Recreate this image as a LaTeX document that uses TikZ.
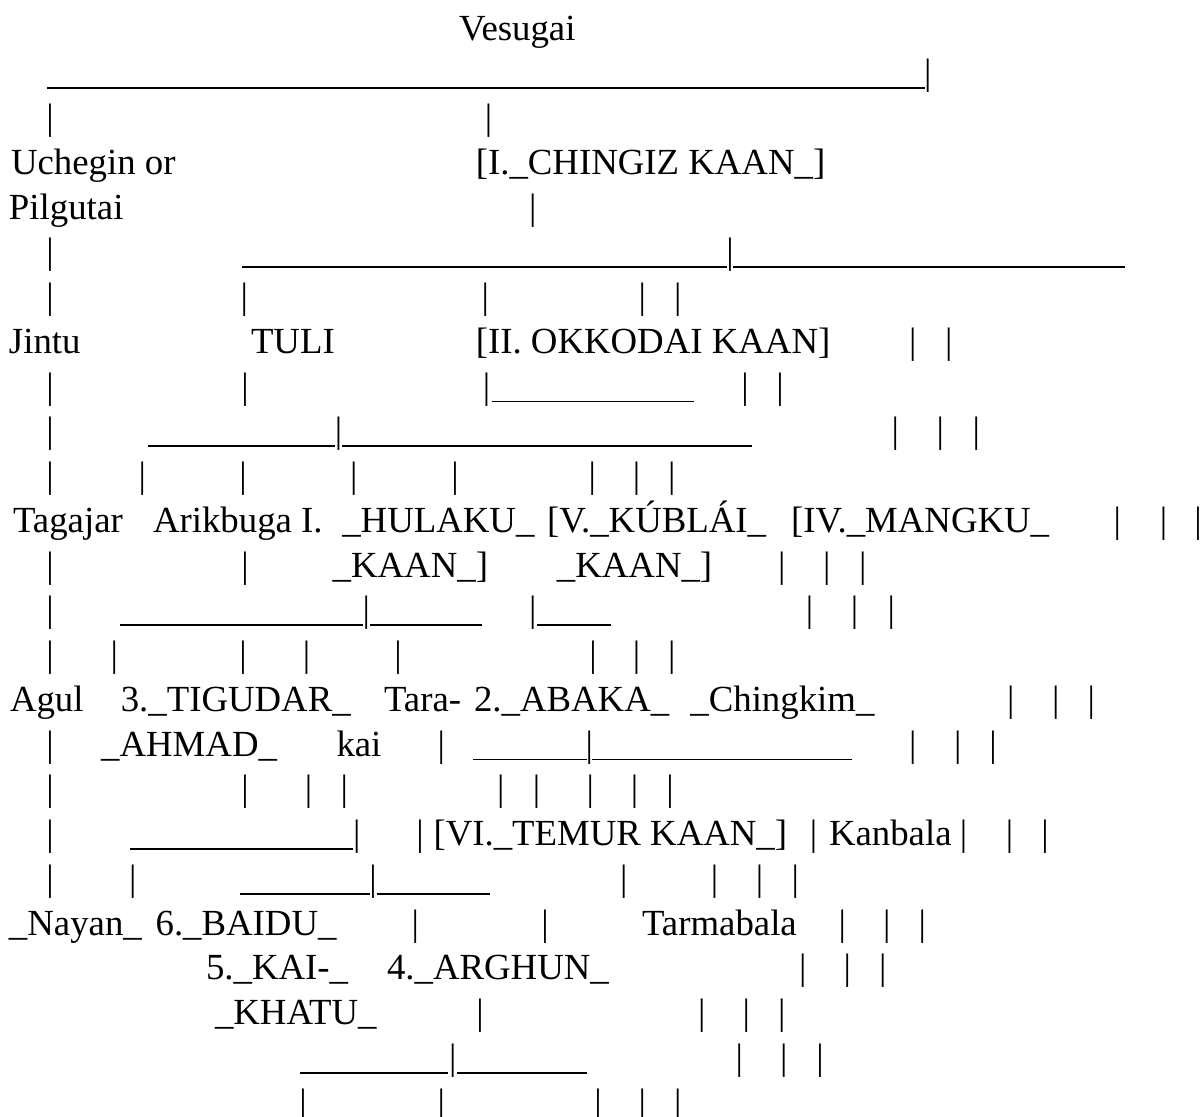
\documentclass[tikz,border=0pt]{standalone}
\usepackage{fontspec}
\setmainfont{Liberation Serif}
\tikzset{
	person/.style={anchor=base west, inner sep=0pt, outer sep=0pt},
	stem/.style={anchor=base, inner sep=0pt, outer sep=0pt},
	hline/.style={line width=1.7pt, line cap=butt},
}
\newcommand{\rowy}[1]{40+44.75*#1}
\newcommand{\stems}[2]{\foreach \x [count=\i] in {#2} \node[stem] (s#1-\i) at (\x,{\rowy{#1}}) {|};}
\newcommand{\runline}[3]{\draw[hline] (#2,{\rowy{#1}+3.4}) -- (#3,{\rowy{#1}+3.4});}

\begin{document}
\begin{tikzpicture}[x=1pt, y=-1pt, font=\fontsize{36.8}{44}\selectfont]
	\useasboundingbox (0,0) rectangle (1203,1117);

	\node[person] (vesugai) at (459,{\rowy{0}}) {Vesugai};
	\runline{1}{46.9}{925}
	\stems{1}{927.7}
	\stems{2}{50,488.5}
	\node[person] (uchegin) at (11,{\rowy{3}}) {Uchegin or};
	\node[person] (chingiz) at (475.8,{\rowy{3}}) {[I.\_CHINGIZ KAAN\_]};
	\node[person] (pilgutai) at (9,{\rowy{4}}) {Pilgutai};
	\stems{4}{532.7}
	\stems{5}{50,730}
	\runline{5}{241.5}{726.9}
	\runline{5}{732.7}{1125}
	\stems{6}{50,244.2,485.4,642.3,677.7}
	\node[person] (jintu) at (9,{\rowy{7}}) {Jintu};
	\node[person] (tuli) at (251,{\rowy{7}}) {TULI};
	\node[person] (okkodai) at (475.8,{\rowy{7}}) {[II. OKKODAI KAAN]};
	\stems{7}{912.7,948.8}
	\stems{8}{50,245,486.5,745,780}
	\runline{8}{492.3}{694.2}
	\stems{9}{50,338.5,895.4,940.4,976.2}
	\runline{9}{148}{334.6}
	\runline{9}{342.3}{751.9}
	\stems{10}{50,142.3,243.1,353.8,455,592.3,636.5,671.9}

	\node[person] (tagajar) at (13,{\rowy{11}}) {Tagajar};
	\node[person] (arikbuga) at (153,{\rowy{11}}) {Arikbuga I.};
	\node[person] (hulaku) at (342.3,{\rowy{11}}) {\_HULAKU\_};
	\node[person] (kublai) at (547,{\rowy{11}}) {[V.\_KÚBLÁI\_};
	\node[person] (mangku) at (791.2,{\rowy{11}}) {[IV.\_MANGKU\_};
	\stems{11}{1117.3,1163.5,1198.1}
	\stems{12}{50,245,781.9,826.9,862.7}
	\node[person] (hulakuk) at (332.7,{\rowy{12}}) {\_KAAN\_]};
	\node[person] (kublaik) at (556.9,{\rowy{12}}) {\_KAAN\_]};
	\stems{13}{50,366.2,532.7,809.6,854.6,891.2}
	\runline{13}{120.4}{362.7}
	\runline{13}{370}{481.9}
	\runline{13}{536.5}{610.8}
	\stems{14}{50,114.2,243.1,306.5,398.1,593.1,636.5,671.9}

	\node[person] (agul) at (10,{\rowy{15}}) {Agul};
	\node[person] (tigudar) at (120.8,{\rowy{15}}) {3.\_TIGUDAR\_};
	\node[person] (tarakai) at (384,{\rowy{15}}) {Tara-};
	\node[person] (abaka) at (474,{\rowy{15}}) {2.\_ABAKA\_};
	\node[person] (chingkim) at (690.4,{\rowy{15}}) {\_Chingkim\_};
	\stems{15}{1010.8,1055.8,1091.2}
	\node[person] (ahmad) at (101.2,{\rowy{16}}) {\_AHMAD\_};
	\node[person] (kai) at (336.5,{\rowy{16}}) {kai};
	\stems{16}{50,441.2,589.2,912.7,957.7,993.1}
	\runline{16}{473.1}{586.5}
	\runline{16}{592.3}{851.9}
	\stems{17}{50,245,308.5,344.2,500.8,536.5,590.4,634.6,670}
	\stems{18}{50,356.9,420,813.5,963.5,1009.6,1045}
	\runline{18}{130}{353.1}
	\node[person] (temur) at (433.5,{\rowy{18}}) {[VI.\_TEMUR KAAN\_]};
	\node[person] (kanbala) at (829,{\rowy{18}}) {Kanbala};
	\stems{19}{50,132.7,373.1,623.8,714.6,759.6,795.4}
	\runline{19}{239.6}{370.4}
	\runline{19}{376.9}{489.6}

	\node[person] (nayan) at (9,{\rowy{20}}) {\_Nayan\_};
	\node[person] (baidu) at (155.6,{\rowy{20}}) {6.\_BAIDU\_};
	\stems{20}{415.4,545,842.3,886.9,922.3}
	\node[person] (tarmabala) at (642,{\rowy{20}}) {Tarmabala};
	\node[person] (kaikhatu) at (206,{\rowy{21}}) {5.\_KAI-\_};
	\node[person] (arghun) at (387,{\rowy{21}}) {4.\_ARGHUN\_};
	\stems{21}{802.7,847.3,882.7}
	\node[person] (khatu) at (215,{\rowy{22}}) {\_KHATU\_};
	\stems{22}{480,701.9,746.2,781.9}
	\stems{23}{452.7,739.2,783.8,820}
	\runline{23}{300}{448.1}
	\runline{23}{456.5}{587.3}
	\stems{24}{303.1,441.2,598.1,642.3,677.7}
\end{tikzpicture}
\end{document}
